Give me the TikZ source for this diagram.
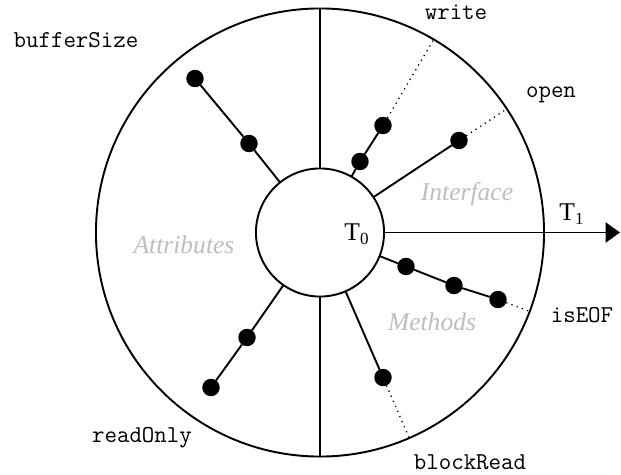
\documentclass[tikz,border=0pt]{standalone}
\usepackage{fontspec}
\setmainfont{Liberation Serif}
\usetikzlibrary{
  arrows.meta,
  positioning
}
\definecolor{caMute}{HTML}{BDBDBD}
\tikzset{
  ring/.style={draw, circle, inner sep=0pt, outer sep=0pt, line width=0.9pt},
  knob/.style={circle, fill=black, inner sep=0pt, outer sep=0pt, minimum size=8.2pt},
  stem/.style={line width=0.9pt},
  lead/.style={dotted, line width=0.6pt},
  zonetag/.style={font=\fontsize{12}{14}\selectfont\itshape, text=caMute},
  msgtag/.style={font=\fontsize{11.4}{13}\selectfont\ttfamily, inner sep=0pt},
  timetag/.style={font=\fontsize{12}{14}\selectfont, inner sep=0pt},
  timeline/.style={-{Triangle[length=6.8pt, width=9.5pt]}, line width=0.9pt}
}

\begin{document}
\begin{tikzpicture}[x=0.47pt, y=0.47pt]
  \useasboundingbox (-320,-241.5) rectangle (301,232.5);
  % shells
  \node[ring, minimum size=210.6pt] (shell) at (0,0) {};
  \node[ring, minimum size=60.2pt, fill=white] (core) at (0,0) {};
  \draw[stem] (core.north) -- (shell.north);
  \draw[stem] (core.south) -- (shell.south);
  \coordinate (tend) at (300,0);
  \draw[timeline] (core.east) -- (tend);
  \node[timetag] (t0) at (37,-2) {T\textsubscript{0}};
  \node[timetag] (t1) at (252,18) {T\textsubscript{1}};

  % zones
  \node[zonetag] (iface) at (147,38) {Interface};
  \node[zonetag] (attr) at (-136,-12) {Attributes};
  \node[zonetag] (meth) at (112,-89) {Methods};

  % attributes
  \node[knob] (bs1) at (-71,89) {};
  \node[knob] (bs2) at (-125,154) {};
  \node[knob] (ro1) at (-73,-105) {};
  \node[knob] (ro2) at (-109,-155) {};
  \draw[stem] (core) -- (bs1) -- (bs2);
  \draw[stem] (core) -- (ro1) -- (ro2);

  % interface
  \node[knob] (wr1) at (40,71) {};
  \node[knob] (wr2) at (63,107) {};
  \node[knob] (op1) at (139,92) {};
  \draw[stem] (core) -- (wr1) -- (wr2);
  \draw[stem] (core) -- (op1);
  \draw[lead] (wr2) -- (shell);
  \draw[lead] (op1) -- (shell);

  % methods
  \node[knob] (eo1) at (86,-34) {};
  \node[knob] (eo2) at (134,-53) {};
  \node[knob] (eo3) at (178,-67) {};
  \node[knob] (br1) at (63,-145) {};
  \draw[stem] (core) -- (eo1) -- (eo2) -- (eo3);
  \draw[stem] (core) -- (br1);
  \draw[lead] (eo3) -- (shell);
  \draw[lead] (br1) -- (shell);

  % names
  \node[msgtag] (bufsize) at (-244,192) {bufferSize};
  \node[msgtag] (readonly) at (-178,-205) {readOnly};
  \node[msgtag] (write) at (136,220) {write};
  \node[msgtag] (open) at (231,138) {open};
  \node[msgtag] (iseof) at (262,-83) {isEOF};
  \node[msgtag] (blockread) at (150,-230) {blockRead};
\end{tikzpicture}
\end{document}
